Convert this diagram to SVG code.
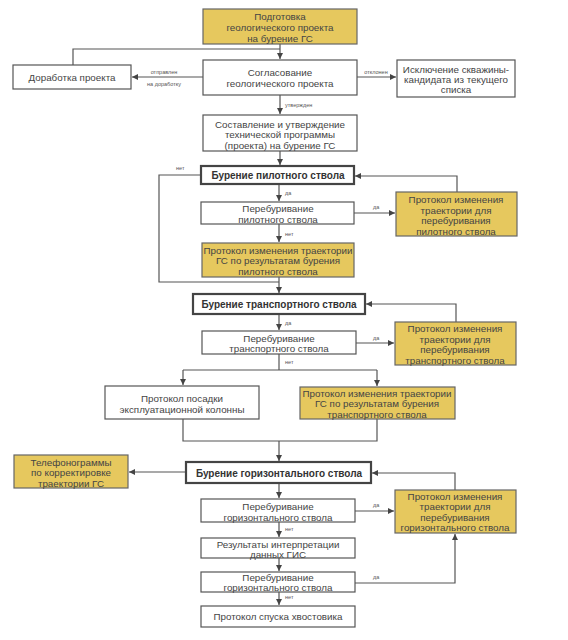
<svg xmlns="http://www.w3.org/2000/svg" width="568" height="640" viewBox="0 0 568 640">
<defs>
<style>
.b{fill:#fff;stroke:#555;stroke-width:1.2}
.y{fill:#e6c85e;stroke:#666;stroke-width:1.2}
.k{fill:#fff;stroke:#444;stroke-width:2.2}
.t{font-family:"Liberation Sans",Arial,sans-serif;font-size:9.8px;fill:#444;text-anchor:middle}
.tb{font-family:"Liberation Sans",Arial,sans-serif;font-size:10px;font-weight:bold;fill:#333;text-anchor:middle}
.l{font-family:"Liberation Sans",Arial,sans-serif;font-size:5.5px;fill:#555}
.c{fill:none;stroke:#555;stroke-width:1.2}
</style>
<marker id="a" markerUnits="userSpaceOnUse" markerWidth="7" markerHeight="6" refX="6" refY="3" orient="auto">
<path d="M0,0 L6,3 L0,6 Z" fill="#444"/>
</marker>
</defs>
<rect width="568" height="640" fill="#fff"/>

<g id="connectors">
<path class="c" d="M280,44 V59" marker-end="url(#a)"/>
<path class="c" d="M73,65 V49 H280"/>
<path class="c" d="M203,77 H132" marker-end="url(#a)"/>
<path class="c" d="M357,77 H396" marker-end="url(#a)"/>
<path class="c" d="M280,95 V114" marker-end="url(#a)"/>
<path class="c" d="M280,151 V165" marker-end="url(#a)"/>
<path class="c" d="M201,175 H159 V282 H279"/>
<path class="c" d="M279,184 V201" marker-end="url(#a)"/>
<path class="c" d="M354,213 H395" marker-end="url(#a)"/>
<path class="c" d="M457,192 V176 H355" marker-end="url(#a)"/>
<path class="c" d="M279,224 V242" marker-end="url(#a)"/>
<path class="c" d="M279,277 V293" marker-end="url(#a)"/>
<path class="c" d="M279,314 V330" marker-end="url(#a)"/>
<path class="c" d="M356,343 H394" marker-end="url(#a)"/>
<path class="c" d="M456,322 V304 H366" marker-end="url(#a)"/>
<path class="c" d="M279,354 V370"/>
<path class="c" d="M183,370 H377"/>
<path class="c" d="M183,370 V385" marker-end="url(#a)"/>
<path class="c" d="M377,370 V386" marker-end="url(#a)"/>
<path class="c" d="M183,419 V441 H377 V419"/>
<path class="c" d="M279,441 V461" marker-end="url(#a)"/>
<path class="c" d="M186,472 H129" marker-end="url(#a)"/>
<path class="c" d="M455,490 V473 H372" marker-end="url(#a)"/>
<path class="c" d="M279,483 V498" marker-end="url(#a)"/>
<path class="c" d="M355,511 H394" marker-end="url(#a)"/>
<path class="c" d="M279,522 V537" marker-end="url(#a)"/>
<path class="c" d="M279,558 V571" marker-end="url(#a)"/>
<path class="c" d="M355,583 H455 V534" marker-end="url(#a)"/>
<path class="c" d="M279,592 V605" marker-end="url(#a)"/>
<text class="l" x="164" y="74" text-anchor="middle">отправлен</text>
<text class="l" x="164" y="86" text-anchor="middle">на доработку</text>
<text class="l" x="376" y="74" text-anchor="middle">отклонен</text>
<text class="l" x="285" y="107">утвержден</text>
<text class="l" x="176" y="170">нет</text>
<text class="l" x="285" y="195">да</text>
<text class="l" x="373" y="209">да</text>
<text class="l" x="285" y="236">нет</text>
<text class="l" x="285" y="325">да</text>
<text class="l" x="373" y="340">да</text>
<text class="l" x="285" y="364">нет</text>
<text class="l" x="373" y="507">да</text>
<text class="l" x="285" y="531">нет</text>
<text class="l" x="373" y="579">да</text>
<text class="l" x="285" y="599">нет</text>
</g>

<g id="n1"><rect class="y" x="203" y="9" width="154" height="35"/>
<text class="t" x="280" y="20">Подготовка</text><text class="t" x="280" y="31">геологического проекта</text><text class="t" x="280" y="42">на бурение ГС</text></g>

<g id="n2"><rect class="b" x="203" y="60" width="154" height="35"/>
<text class="t" x="280" y="76">Согласование</text><text class="t" x="280" y="87">геологического проекта</text></g>

<g id="n3"><rect class="b" x="13" y="65" width="118" height="24"/>
<text class="t" x="72" y="80.5">Доработка проекта</text></g>

<g id="n4"><rect class="b" x="397" y="60" width="118" height="37"/>
<text class="t" x="456" y="73">Исключение скважины-</text><text class="t" x="456" y="83">кандидата из текущего</text><text class="t" x="456" y="93">списка</text></g>

<g id="n5"><rect class="b" x="203" y="115" width="154" height="36"/>
<text class="t" x="280" y="127.5">Составление и утверждение</text><text class="t" x="280" y="138">технической программы</text><text class="t" x="280" y="148.5">(проекта) на бурение ГС</text></g>

<g id="n6"><rect class="k" x="201" y="166" width="153" height="18"/>
<text class="tb" x="278" y="178.5">Бурение пилотного ствола</text></g>

<g id="n7"><rect class="b" x="201" y="202" width="153" height="22"/>
<text class="t" x="278" y="212">Перебуривание</text><text class="t" x="278" y="222.5">пилотного ствола</text></g>

<g id="n8"><rect class="y" x="396" y="192" width="121" height="44"/>
<text class="t" x="456" y="203">Протокол изменения</text><text class="t" x="456" y="213.5">траектории для</text><text class="t" x="456" y="224">перебуривания</text><text class="t" x="456" y="234.5">пилотного ствола</text></g>

<g id="n9"><rect class="y" x="202" y="243" width="152" height="34"/>
<text class="t" x="278" y="253.5">Протокол изменения траектории</text><text class="t" x="278" y="264">ГС по результатам бурения</text><text class="t" x="278" y="274.5">пилотного ствола</text></g>

<g id="n10"><rect class="k" x="193" y="294" width="172" height="20"/>
<text class="tb" x="279" y="308">Бурение транспортного ствола</text></g>

<g id="n11"><rect class="b" x="202" y="331" width="154" height="23"/>
<text class="t" x="279" y="341.5">Перебуривание</text><text class="t" x="279" y="352">транспортного ствола</text></g>

<g id="n12"><rect class="y" x="395" y="322" width="121" height="43"/>
<text class="t" x="455" y="331.5">Протокол изменения</text><text class="t" x="455" y="342.5">траектории для</text><text class="t" x="455" y="353">перебуривания</text><text class="t" x="455" y="363.5">транспортного ствола</text></g>

<g id="n13"><rect class="b" x="105" y="386" width="154" height="33"/>
<text class="t" x="182" y="401.5">Протокол посадки</text><text class="t" x="182" y="412.5">эксплуатационной колонны</text></g>

<g id="n14"><rect class="y" x="300" y="387" width="155" height="32"/>
<text class="t" x="377" y="396.5">Протокол изменения траектории</text><text class="t" x="377" y="407">ГС по результатам бурения</text><text class="t" x="377" y="417.5">транспортного ствола</text></g>

<g id="n15"><rect class="k" x="186" y="462" width="185" height="21"/>
<text class="tb" x="279" y="476.5">Бурение горизонтального ствола</text></g>

<g id="n16"><rect class="y" x="14" y="455" width="114" height="33"/>
<text class="t" x="71" y="465.5">Телефонограммы</text><text class="t" x="71" y="476">по корректировке</text><text class="t" x="71" y="486.5">траектории ГС</text></g>

<g id="n17"><rect class="b" x="201" y="499" width="154" height="23"/>
<text class="t" x="278" y="510">Перебуривание</text><text class="t" x="278" y="520.5">горизонтального ствола</text></g>

<g id="n18"><rect class="y" x="395" y="490" width="121" height="43"/>
<text class="t" x="455" y="499.5">Протокол изменения</text><text class="t" x="455" y="510">траектории для</text><text class="t" x="455" y="520.5">перебуривания</text><text class="t" x="455" y="531">горизонтального ствола</text></g>

<g id="n19"><rect class="b" x="201" y="538" width="154" height="20"/>
<text class="t" x="278" y="547.5">Результаты интерпретации</text><text class="t" x="278" y="557.5">данных ГИС</text></g>

<g id="n20"><rect class="b" x="201" y="572" width="154" height="20"/>
<text class="t" x="278" y="580.5">Перебуривание</text><text class="t" x="278" y="591">горизонтального ствола</text></g>

<g id="n21"><rect class="b" x="201" y="606" width="154" height="21"/>
<text class="t" x="278" y="620">Протокол спуска хвостовика</text></g>
</svg>
